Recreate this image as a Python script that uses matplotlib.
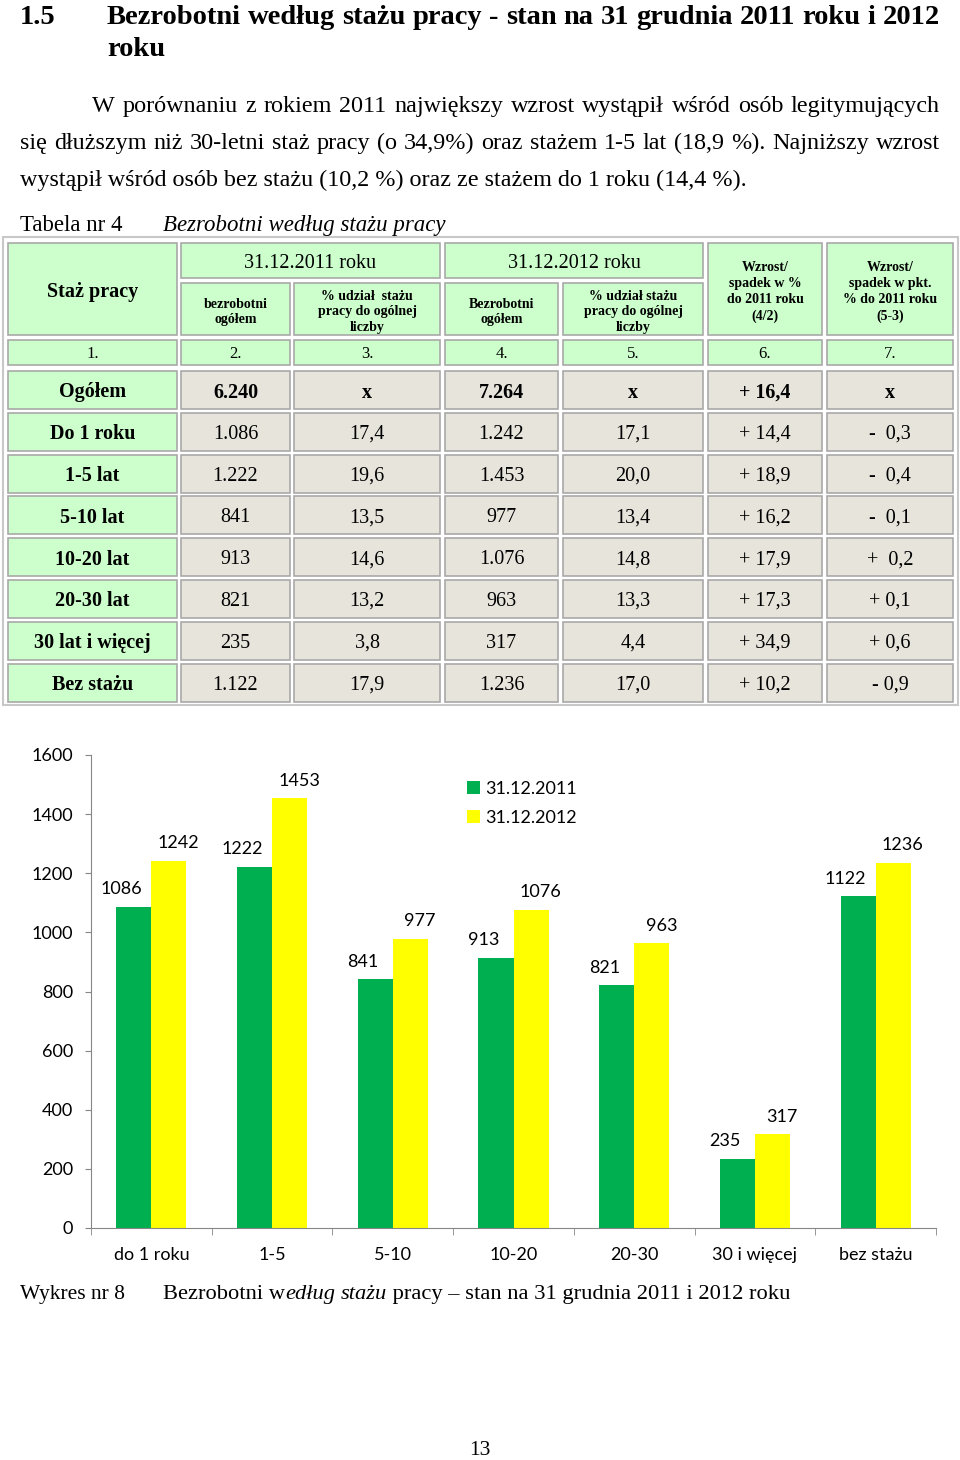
import matplotlib
matplotlib.use("Agg")
import matplotlib.pyplot as plt
from matplotlib.patches import Rectangle
import numpy as np

W, H = 960, 1460
serif = "Liberation Serif"
sans = "Lato"

# chart data
categories = ["do 1 roku", "1-5", "5-10", "10-20", "20-30", "30 i więcej", "bez stażu"]
v2011 = [1086, 1222, 841, 913, 821, 235, 1122]
v2012 = [1242, 1453, 977, 1076, 963, 317, 1236]
series = ["31.12.2011", "31.12.2012"]

# table data
row_labels = ["Ogółem", "Do 1 roku", "1-5 lat", "5-10 lat", "10-20 lat",
              "20-30 lat", "30 lat i więcej", "Bez stażu"]
total_2011 = ["6.240", "1.086", "1.222", "841", "913", "821", "235", "1.122"]
share_2011 = ["x", "17,4", "19,6", "13,5", "14,6", "13,2", "3,8", "17,9"]
total_2012 = ["7.264", "1.242", "1.453", "977", "1.076", "963", "317", "1.236"]
share_2012 = ["x", "17,1", "20,0", "13,4", "14,8", "13,3", "4,4", "17,0"]
change_pct = ["+ 16,4", "+ 14,4", "+ 18,9", "+ 16,2", "+ 17,9", "+ 17,3", "+ 34,9", "+ 10,2"]
change_pt = ["x", "-  0,3", "-  0,4", "-  0,1", "+  0,2", "+ 0,1", "+ 0,6", "- 0,9"]
col_numbers = ["1.", "2.", "3.", "4.", "5.", "6.", "7."]

fig = plt.figure(figsize=(9.6, 14.6), dpi=100)
page = fig.add_axes([0, 0, 1, 1])
page.set_xlim(0, W)
page.set_ylim(H, 0)
page.axis("off")
r = fig.canvas.get_renderer()


def justify(y, x0, x1, line, size, weight="normal"):
    words = line.split(" ")
    objs = [page.text(0, y, w, fontsize=size, family=serif, weight=weight,
                      va="baseline") for w in words]
    widths = [o.get_window_extent(r).width for o in objs]
    gap = (x1 - x0 - sum(widths)) / (len(words) - 1)
    x = x0
    for o, w in zip(objs, widths):
        o.set_x(x)
        x += w + gap


def pieces(y, x0, parts, size):
    x = x0
    for s, style in parts:
        t = page.text(x, y, s, fontsize=size, family=serif, style=style, va="baseline")
        x += t.get_window_extent(r).width


# heading and paragraph
page.text(20, 24, "1.5", fontsize=20.5, family=serif, weight="bold", va="baseline")
justify(24, 107, 940, "Bezrobotni według stażu pracy - stan na 31 grudnia 2011 roku i 2012",
        20.5, "bold")
page.text(107, 56, "roku", fontsize=20.5, family=serif, weight="bold", va="baseline")

justify(112, 92, 940, "W porównaniu z rokiem 2011 największy wzrost wystąpił wśród osób legitymujących", 17.4)
justify(149, 20, 940, "się dłuższym niż 30-letni staż pracy (o 34,9%) oraz stażem 1-5 lat (18,9 %). Najniższy wzrost", 17.4)
page.text(20, 186, "wystąpił wśród osób bez stażu (10,2 %) oraz ze stażem do 1 roku (14,4 %).",
          fontsize=17.4, family=serif, va="baseline")

page.text(20, 231, "Tabela nr 4", fontsize=16.5, family=serif, va="baseline")
page.text(163, 231, "Bezrobotni według stażu pracy", fontsize=16.5, family=serif,
          style="italic", va="baseline")

# table
green = "#ccffcc"
grey = "#e7e4dc"
edge = "#a9a9a9"
page.add_patch(Rectangle((3, 237), 955, 468, facecolor="white", edgecolor="#c8c8c8", lw=1.5))


def cell(x0, y0, x1, y1, fc, text="", size=14.5, weight="normal", ls=1.2):
    page.add_patch(Rectangle((x0, y0), x1 - x0, y1 - y0, facecolor=fc, edgecolor=edge, lw=1.2))
    if text:
        page.text((x0 + x1) / 2, (y0 + y1) / 2, text, fontsize=size, family=serif,
                  weight=weight, ha="center", va="center_baseline", linespacing=ls,
                  multialignment="center")


cols = [(8, 177), (181, 290), (294, 440), (445, 558), (563, 703), (708, 822), (827, 953)]

cell(8, 243, 177, 335, green, "Staż pracy", 14.5, "bold")
cell(181, 243, 440, 278, green, "31.12.2011 roku", 14.5)
cell(181, 283, 290, 335, green, "bezrobotni\nogółem", 10, "bold", 1.3)
cell(294, 283, 440, 335, green, "% udział  stażu\npracy do ogólnej\nliczby", 10, "bold", 1.3)
cell(445, 243, 703, 278, green, "31.12.2012 roku", 14.5)
cell(445, 283, 558, 335, green, "Bezrobotni\nogółem", 10, "bold", 1.3)
cell(563, 283, 703, 335, green, "% udział stażu\npracy do ogólnej\nliczby", 10, "bold", 1.3)
cell(708, 243, 822, 335, green, "Wzrost/\nspadek w %\ndo 2011 roku\n(4/2)", 10, "bold", 1.3)
cell(827, 243, 953, 335, green, "Wzrost/\nspadek w pkt.\n% do 2011 roku\n(5-3)", 10, "bold", 1.3)

for (x0, x1), lab in zip(cols, col_numbers):
    cell(x0, 340, x1, 365, green, lab, 12)

columns = [row_labels, total_2011, share_2011, total_2012, share_2012, change_pct, change_pt]
for i in range(len(row_labels)):
    y0 = 371 + i * 41.8
    y1 = y0 + 38
    for j, (x0, x1) in enumerate(cols):
        fc = green if j == 0 else grey
        wt = "bold" if (j == 0 or i == 0) else "normal"
        cell(x0, y0, x1, y1, fc, columns[j][i], 14.5, wt)

# bar chart
ax = fig.add_axes([91 / W, 1 - 1228 / H, (936 - 91) / W, (1228 - 755) / H])
x = np.arange(len(categories))
bw = 0.29
b1 = ax.bar(x - bw / 2, v2011, bw, color="#00b050", label=series[0])
b2 = ax.bar(x + bw / 2, v2012, bw, color="#ffff00", label=series[1])
for bars, vals, dx in [(b1, v2011, -9), (b2, v2012, 7)]:
    for rect, v in zip(bars, vals):
        ax.annotate(str(v), (rect.get_x() + rect.get_width() / 2, v), xytext=(dx, 7),
                    textcoords="offset points", ha="center", va="bottom",
                    fontsize=13, family=sans)

ax.set_xlim(-0.5, len(categories) - 0.5)
ax.set_ylim(0, 1600)
ax.set_yticks(np.arange(0, 1601, 200))
ax.set_xticks(x)
ax.set_xticklabels(categories)
ax.set_xticks(np.arange(-0.5, len(categories)), minor=True)
for s in ["top", "right"]:
    ax.spines[s].set_visible(False)
for s in ["left", "bottom"]:
    ax.spines[s].set_color("#868686")
ax.tick_params(axis="y", length=4, color="#868686", pad=9, labelsize=13)
ax.tick_params(axis="x", which="major", length=0, pad=14, labelsize=13)
ax.tick_params(axis="x", which="minor", length=5, color="#868686")
for lab in ax.get_xticklabels() + ax.get_yticklabels():
    lab.set_family(sans)
ax.patch.set_alpha(0)

ax.legend(loc="upper left", bbox_to_anchor=(458 / W, 1 - 772 / H), bbox_transform=fig.transFigure,
          frameon=False, handlelength=0.7, handleheight=0.7, handletextpad=0.3,
          labelspacing=0.7, borderpad=0, prop={"family": sans, "size": 13})

# caption and page number
page.text(20, 1299, "Wykres nr 8", fontsize=15.5, family=serif, va="baseline")
pieces(1299, 163, [("Bezrobotni w", "normal"), ("edług", "italic"), (" ", "normal"),
                   ("stażu", "italic"), (" pracy – stan na 31 grudnia 2011 i 2012 roku", "normal")], 16.2)
page.text(480, 1455, "13", fontsize=15.5, family=serif, ha="center", va="baseline")

fig.savefig("out.png", dpi=100)
